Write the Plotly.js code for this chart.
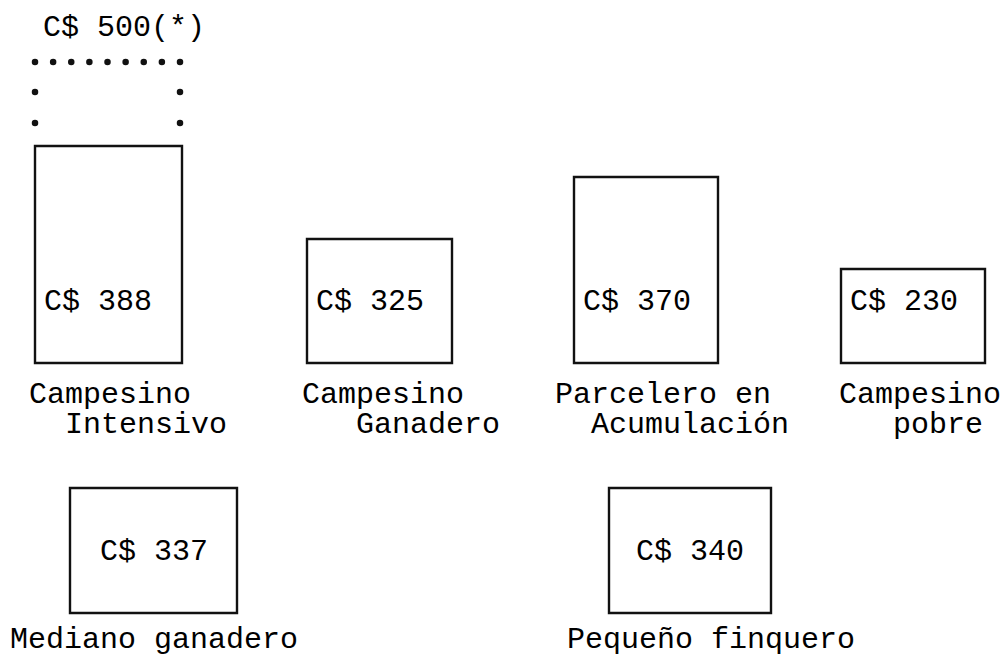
<!DOCTYPE html>
<html>
<head>
<meta charset="utf-8">
<script src="https://cdn.plot.ly/plotly-3.0.1.min.js"></script>
<style>
  html, body { margin: 0; padding: 0; background: #fff; }
  #chart { width: 1000px; height: 656px; }
</style>
</head>
<body>
<div id="chart"></div>
<script>
// Ingreso por tipo de productor (C$)
const linea1 = ['Campesino', 'Campesino', 'Parcelero en', 'Campesino', 'Mediano ganadero', 'Pequeño finquero'];
const linea2 = ['Intensivo', 'Ganadero', 'Acumulación', 'pobre', '', ''];
const sangria = [2, 3, 2, 3, 0, 0];
const valores = [388, 325, 370, 230, 337, 340];
const valorMaximo = 500; // C$ 500(*)

// dibujo: cajas en coordenadas de la lámina (0 abajo)
const centros = [108.5, 379.5, 646, 913, 153.5, 690];
const anchos = [147, 145, 144, 144, 167, 162];
const bases = [293, 293, 293, 293, 43, 43];
const alturas = [217, 124, 186, 94, 125, 125];
const fila = [1, 1, 1, 1, 2, 2];
const etiquetaX = [27, 300, 553, 837, 8, 565];
const alturaMaximo = 301; // caja de C$ 500 sobre la primera

const fuente = { family: 'Liberation Mono, Courier New, monospace', size: 30, color: '#000' };
const nb = n => '\u00A0'.repeat(n);

const cajas = {
  type: 'bar',
  x: centros,
  y: alturas,
  base: bases,
  width: anchos,
  marker: { color: 'rgba(255,255,255,0)', line: { color: '#111', width: 2.4 } },
  hoverinfo: 'skip'
};

// caja punteada de C$ 500 sobre la primera caja
const izq = centros[0] - anchos[0] / 2, der = centros[0] + anchos[0] / 2 - 2;
const tope = bases[0] + alturaMaximo;
const px = [], py = [];
for (let i = 0; i < 9; i++) { px.push(izq + (der - izq) * i / 8); py.push(tope); }
[30, 61].forEach(d => { px.push(izq, der); py.push(tope - d, tope - d); });
const puntos = {
  type: 'scatter', mode: 'markers', x: px, y: py,
  marker: { color: '#111', size: 6.5 }, hoverinfo: 'skip'
};

const anotaciones = [];
anotaciones.push({ x: 41, y: 628, xanchor: 'left', yanchor: 'middle', text: 'C$ ' + valorMaximo + '(*)', showarrow: false, font: fuente });
valores.forEach((v, i) => {
  const enFila1 = fila[i] === 1;
  anotaciones.push({
    x: enFila1 ? centros[i] - anchos[i] / 2 + 7 : centros[i],
    y: enFila1 ? 354 : 104,
    xanchor: enFila1 ? 'left' : 'center', yanchor: 'middle',
    text: 'C$ ' + v, showarrow: false, font: fuente
  });
  anotaciones.push({
    x: etiquetaX[i], y: enFila1 ? 261 : 16, xanchor: 'left', yanchor: 'middle',
    text: linea1[i].replace(/ /g, '\u00A0'), showarrow: false, font: fuente
  });
  if (linea2[i]) {
    anotaciones.push({
      x: etiquetaX[i], y: 231, xanchor: 'left', yanchor: 'middle',
      text: nb(sangria[i]) + linea2[i], showarrow: false, font: fuente
    });
  }
});

const layout = {
  width: 1000, height: 656,
  margin: { l: 0, r: 0, t: 0, b: 0 },
  paper_bgcolor: '#fff', plot_bgcolor: '#fff',
  showlegend: false,
  xaxis: { range: [0, 1000], visible: false, fixedrange: true },
  yaxis: { range: [0, 656], visible: false, fixedrange: true },
  annotations: anotaciones
};

Plotly.newPlot('chart', [cajas, puntos], layout, { displayModeBar: false, staticPlot: true });
</script>
</body>
</html>
